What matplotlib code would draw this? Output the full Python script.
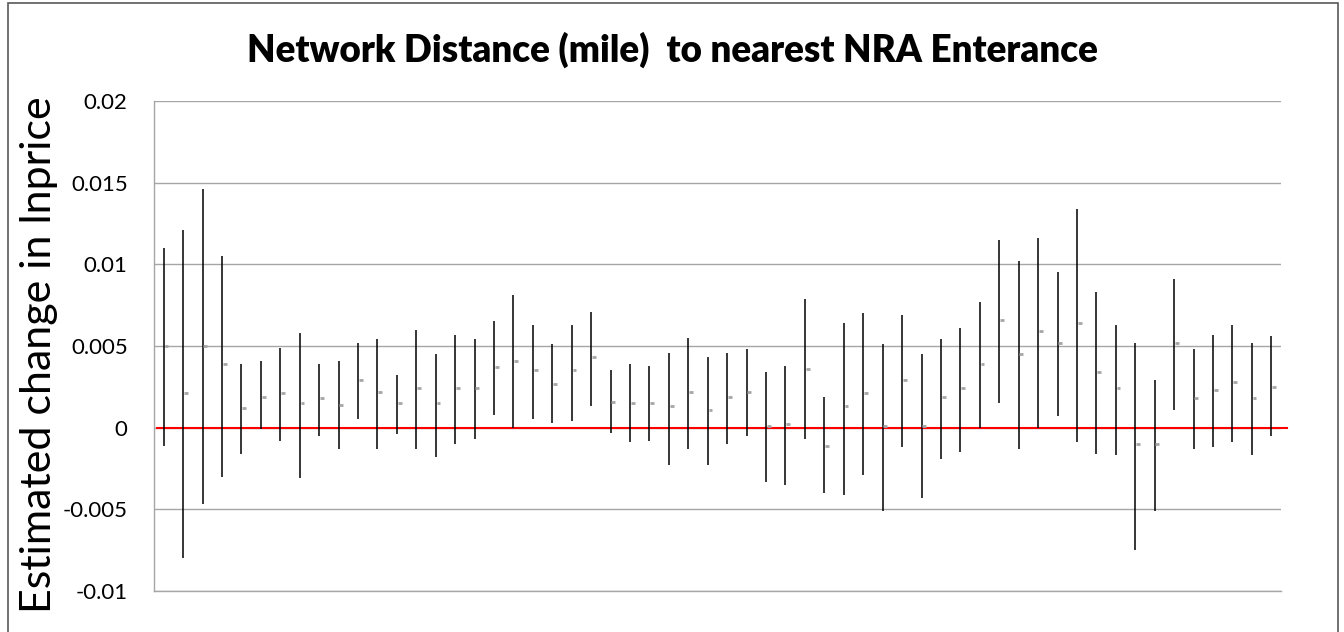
import matplotlib.pyplot as plt
import numpy as np
from matplotlib.patches import Rectangle

# upper / lower bound and point estimate for each distance band
high = [0.0110, 0.0121, 0.0146, 0.0105, 0.0039, 0.0041, 0.0049, 0.0058, 0.0039, 0.0041,
        0.0052, 0.0054, 0.0032, 0.0060, 0.0045, 0.0057, 0.0054, 0.0065, 0.0081, 0.0063,
        0.0051, 0.0063, 0.0071, 0.0035, 0.0039, 0.0038, 0.0046, 0.0055, 0.0043, 0.0046,
        0.0048, 0.0034, 0.0038, 0.0079, 0.0019, 0.0064, 0.0070, 0.0051, 0.0069, 0.0045,
        0.0054, 0.0061, 0.0077, 0.0115, 0.0102, 0.0116, 0.0095, 0.0134, 0.0083, 0.0063,
        0.0052, 0.0029, 0.0091, 0.0048, 0.0057, 0.0063, 0.0052, 0.0056]
low = [-0.0011, -0.0080, -0.0047, -0.0030, -0.0016, -0.0001, -0.0008, -0.0031, -0.0005, -0.0013,
       0.0005, -0.0013, -0.0004, -0.0013, -0.0018, -0.0010, -0.0007, 0.0008, 0.0000, 0.0005,
       0.0003, 0.0004, 0.0013, -0.0003, -0.0009, -0.0008, -0.0023, -0.0013, -0.0023, -0.0010,
       -0.0005, -0.0033, -0.0035, -0.0007, -0.0040, -0.0041, -0.0029, -0.0051, -0.0012, -0.0043,
       -0.0019, -0.0015, 0.0000, 0.0015, -0.0013, 0.0000, 0.0007, -0.0009, -0.0016, -0.0017,
       -0.0075, -0.0051, 0.0011, -0.0013, -0.0012, -0.0009, -0.0017, -0.0005]
est = [0.0050, 0.0021, 0.0050, 0.0039, 0.0012, 0.0019, 0.0021, 0.0015, 0.0018, 0.0014,
       0.0029, 0.0022, 0.0015, 0.0024, 0.0015, 0.0024, 0.0024, 0.0037, 0.0041, 0.0035,
       0.0027, 0.0035, 0.0043, 0.0016, 0.0015, 0.0015, 0.0013, 0.0022, 0.0011, 0.0019,
       0.0022, 0.0001, 0.0002, 0.0036, -0.0011, 0.0013, 0.0021, 0.0001, 0.0029, 0.0001,
       0.0019, 0.0024, 0.0039, 0.0066, 0.0045, 0.0059, 0.0052, 0.0064, 0.0034, 0.0024,
       -0.0010, -0.0010, 0.0052, 0.0018, 0.0023, 0.0028, 0.0018, 0.0025]

x = np.arange(len(est))

plt.rcParams['font.family'] = ['Lato', 'DejaVu Sans']

fig = plt.figure(figsize=(13.44, 6.32), dpi=100)
ax = fig.add_axes([0.1146, 0.0649, 0.8385, 0.7753])

ax.set_ylim(-0.01, 0.02)
ax.set_xlim(-0.5, len(est) - 0.5)
ax.set_yticks(np.arange(-0.01, 0.0201, 0.005))
ax.set_yticklabels(['-0.01', '-0.005', '0', '0.005', '0.01', '0.015', '0.02'])
ax.yaxis.grid(True, color='#a6a6a6', lw=1.0)
ax.set_axisbelow(True)
ax.set_xticks([])
ax.tick_params(axis='y', length=0, labelsize=16, pad=19)
for s in ['top', 'right']:
    ax.spines[s].set_visible(False)
for s in ['left', 'bottom']:
    ax.spines[s].set_color('#a6a6a6')
    ax.spines[s].set_linewidth(1.0)

# zero reference line
ax.axhline(0, xmin=0.003, xmax=1.005, color='#ff0000', lw=1.5, clip_on=False, zorder=1)

# high-low bars with close ticks
ax.vlines(x, low, high, color='black', lw=1.1, zorder=2)
ax.hlines(est, x + 0.04, x + 0.24, color='#a6a6a6', lw=2.0, zorder=3)

fig.text(0.5, 1 - 50 / 632, 'Network Distance (mile)  to nearest NRA Enterance',
         ha='center', va='center', fontsize=26.5, fontweight='heavy')
fig.text(39 / 1344, 1 - 355 / 632, 'Estimated change in lnprice', rotation=90,
         ha='center', va='center', fontsize=31)

fig.patches.append(Rectangle((7.5 / 1344, -0.05), 1330 / 1344, 1.05 - 3.5 / 632,
                             transform=fig.transFigure, fill=False,
                             edgecolor='#595959', lw=1.2))

fig.savefig('out.png', dpi=100)
